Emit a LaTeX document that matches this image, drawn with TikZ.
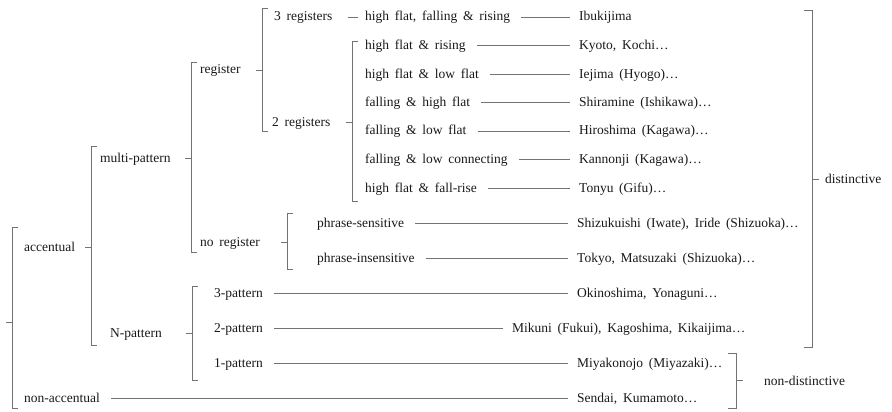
\documentclass[tikz,border=0pt]{standalone}
\usepackage{fontspec}
\setmainfont[WordSpace=1.7]{Liberation Serif}
\newcommand\bracketL[4]{%
  \draw[ln] (#1+6,#2) -- (#1,#2) -- (#1,#3) -- (#1+6,#3);
  \draw[ln] (#1,#4) -- (#1-6,#4);}
\newcommand\bracketR[4]{%
  \draw[ln] (#1-8,#2) -- (#1,#2) -- (#1,#3) -- (#1-8,#3);
  \draw[ln] (#1,#4) -- (#1+7,#4);}
\begin{document}
\begin{tikzpicture}[x=1pt,y=-1pt,
  lbl/.style={anchor=west, inner sep=0pt, text height=10pt, text depth=2pt,
    font=\fontsize{13.5}{16}\selectfont, text=black!90},
  ln/.style={draw=black!55, line width=0.75pt},
  link/.style={ln}]
\useasboundingbox (0,0) rectangle (892,412);

% level 1
\node[lbl] (acc) at (24,247) {accentual};
\node[lbl] (nonacc) at (24,398) {non-accentual};
% level 2
\node[lbl] (multi) at (100,158) {multi-pattern};
\node[lbl] (npat) at (110,333) {N-pattern};
% level 3
\node[lbl] (reg) at (200,70) {register};
\node[lbl] (noreg) at (200,242) {no register};
% level 4
\node[lbl] (reg3) at (274,17) {3 registers};
\node[lbl] (reg2) at (272,122) {2 registers};
% leaves (register)
\node[lbl] (l1) at (365,17) {high flat, falling \& rising};
\node[lbl] (l2) at (365,45.5) {high flat \& rising};
\node[lbl] (l3) at (365,74) {high flat \& low flat};
\node[lbl] (l4) at (365,102.5) {falling \& high flat};
\node[lbl] (l5) at (365,131) {falling \& low flat};
\node[lbl] (l6) at (365,159.5) {falling \& low connecting};
\node[lbl] (l7) at (365,188) {high flat \& fall-rise};
\node[lbl] (r1) at (579,17) {Ibukijima};
\node[lbl] (r2) at (579,45.5) {Kyoto, Kochi…};
\node[lbl] (r3) at (579,74) {Iejima (Hyogo)…};
\node[lbl] (r4) at (579,102.5) {Shiramine (Ishikawa)…};
\node[lbl] (r5) at (579,131) {Hiroshima (Kagawa)…};
\node[lbl] (r6) at (579,159.5) {Kannonji (Kagawa)…};
\node[lbl] (r7) at (579,188) {Tonyu (Gifu)…};
% no register
\node[lbl] (ps) at (317,223) {phrase-sensitive};
\node[lbl] (pi) at (317,258) {phrase-insensitive};
\node[lbl] (rps) at (577,223) {Shizukuishi (Iwate), Iride (Shizuoka)…};
\node[lbl] (rpi) at (577,258) {Tokyo, Matsuzaki (Shizuoka)…};
% N-pattern
\node[lbl] (p3) at (214,293) {3-pattern};
\node[lbl] (p2) at (214,328) {2-pattern};
\node[lbl] (p1) at (214,363) {1-pattern};
\node[lbl] (rp3) at (577,293) {Okinoshima, Yonaguni…};
\node[lbl] (rp2) at (512,328) {Mikuni (Fukui), Kagoshima, Kikaijima…};
\node[lbl] (rp1) at (577,363) {Miyakonojo (Miyazaki)…};
\node[lbl] (rna) at (577,398) {Sendai, Kumamoto…};
% classes
\node[lbl] (dist) at (825,179) {distinctive};
\node[lbl] (ndist) at (764,381) {non-distinctive};

% brackets
\bracketL{12}{227}{408}{322}
\bracketL{91}{146}{345}{247}
\bracketL{191}{62}{252}{158}
\bracketL{262}{8}{131}{70}
\bracketL{352}{41}{201}{122}
\bracketL{287}{213}{269}{242}
\bracketL{192}{286}{380}{333}
\bracketR{812}{10}{347}{179}
\bracketR{736}{353}{408}{380}

% connectors
\draw[link] ([xshift=15pt]reg3.east) -- ([xshift=-7pt]l1.west);
\foreach \a/\b in {l1/r1,l2/r2,l3/r3,l4/r4,l5/r5,l6/r6,l7/r7,ps/rps,pi/rpi,p3/rp3,p2/rp2,p1/rp1,nonacc/rna}
  \draw[link] ([xshift=11pt]\a.east) -- ([xshift=-9pt]\b.west);
\end{tikzpicture}
\end{document}
